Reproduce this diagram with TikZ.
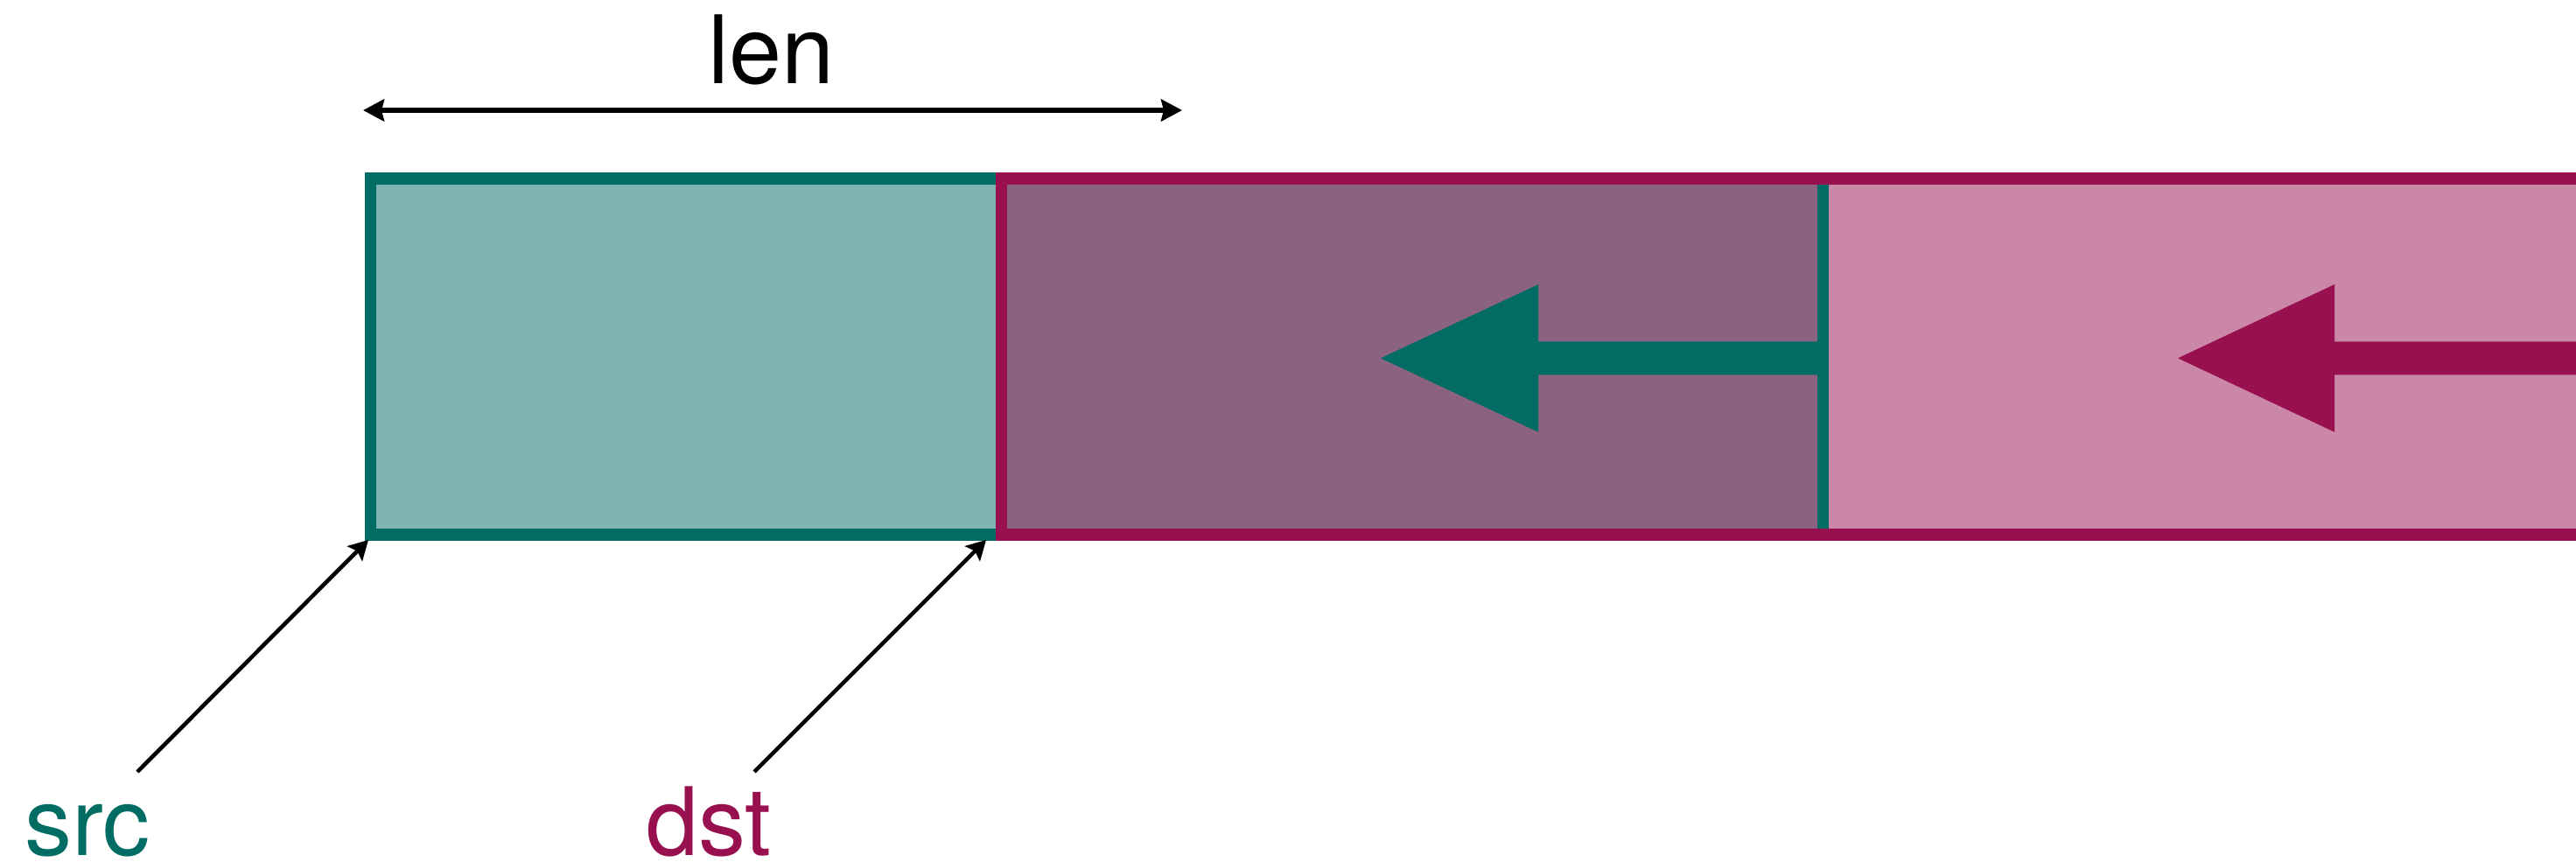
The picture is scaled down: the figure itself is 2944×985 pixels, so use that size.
\documentclass[tikz,border=0pt]{standalone}
\usepackage{fontspec}
\setmainfont{TeX Gyre Heros}
\usetikzlibrary{arrows.meta}

\definecolor{srcc}{RGB}{0,108,100}
\definecolor{dstc}{RGB}{152,16,80}

\tikzset{
  rim/.style={line width=0.13cm, miter limit=10},
  buftext/.style={anchor=base, inner sep=0pt, font=\fontsize{30.7pt}{36pt}\selectfont},
  pointer/.style={line width=1.3pt, -{Stealth[length=0.22cm, width=0.24cm, inset=0.04cm]}},
  span/.style={line width=1.5pt, {Stealth[length=0.24cm, width=0.25cm, inset=0.03cm]}-{Stealth[length=0.24cm, width=0.25cm, inset=0.03cm]}}
}

\begin{document}
\begin{tikzpicture}[x=0.01cm, y=-0.01cm]
\useasboundingbox (0,0) rectangle (2944,985);
\clip (0,0) rectangle (2944,985);

% buffer corners (stroke centres)
\coordinate (srcNW) at (423.8,204);
\coordinate (srcSE) at (2083.5,611);
\coordinate (dstNW) at (1144.5,204);
\coordinate (dstSE) at (2990,611);

% translucent fills: source, then destination on top
\fill[srcc, fill opacity=0.5] (srcNW) rectangle (srcSE);
\fill[dstc, fill opacity=0.5] (dstNW) rectangle (dstSE);

% outlines
\draw[srcc, rim] (srcNW) rectangle (srcSE);
\draw[dstc, rim] (dstNW) rectangle (dstSE);

% direction of the copy
\fill[srcc] (1578,409.3) -- (1758,325) -- (1758,390.3) -- (2083,390.3)
  -- (2083,428.3) -- (1758,428.3) -- (1758,493.7) -- cycle;
\fill[dstc] (2489,409.3) -- (2668,325) -- (2668,390.3) -- (2990,390.3)
  -- (2990,428.3) -- (2668,428.3) -- (2668,493.7) -- cycle;

% length marker
\node[buftext, text=black] (len) at (882,96) {len};
\coordinate (lenL) at (415,126);
\coordinate (lenR) at (1351,126);
\draw[span] (lenL) -- (lenR);

% pointer labels
\node[buftext, text=srcc] (src) at (100,977) {src};
\node[buftext, text=dstc] (dst) at (810,977) {dst};
\coordinate (srcTail) at (157,882);
\coordinate (srcHead) at (421,617);
\coordinate (dstTail) at (862,882);
\coordinate (dstHead) at (1127,617);
\draw[pointer] (srcTail) -- (srcHead);
\draw[pointer] (dstTail) -- (dstHead);
\end{tikzpicture}
\end{document}
